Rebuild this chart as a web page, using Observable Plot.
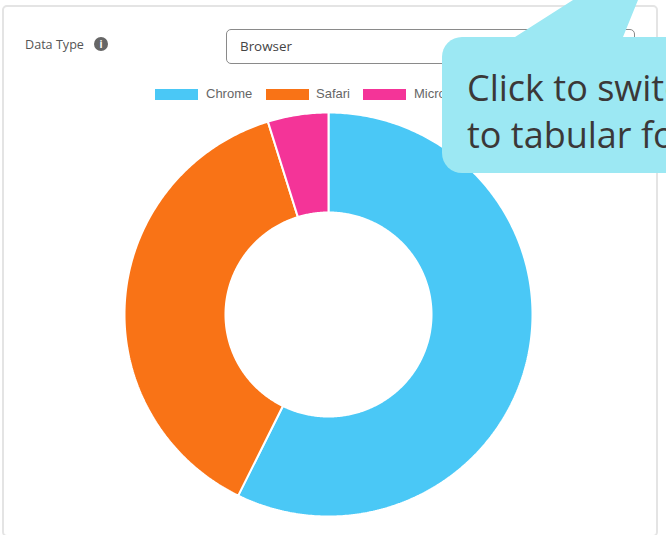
<!DOCTYPE html>
<html>
<head>
<meta charset="utf-8">
<script src="https://cdn.jsdelivr.net/npm/d3@7"></script>
<script src="https://cdn.jsdelivr.net/npm/@observablehq/plot@0.6"></script>
<style>
  html, body { margin: 0; padding: 0; background: #fff; }
  body { position: relative; width: 666px; height: 535px; overflow: hidden; }
  .abs { position: absolute; box-sizing: border-box; }
  #card { left: 2px; top: 5px; width: 656px; height: 532px; border: 2px solid #e4e4e4; border-radius: 5px; }
  #label { left: 25px; top: 36px; font: 12.6px "Open Sans", sans-serif; color: #555; white-space: nowrap; }
  #info { left: 94px; top: 37px; width: 14px; height: 14px; border-radius: 50%; background: #666; color: #fff;
          font: bold 10px/14px "Open Sans", sans-serif; text-align: center; }
  #select { left: 226px; top: 29px; width: 409px; height: 35px; border: 1px solid #8a8a8a; border-radius: 5px; }
  #selectText { left: 240px; top: 37px; font: 13.4px "Open Sans", sans-serif; color: #444; white-space: nowrap; }
  #legend { left: 0; top: 0; }
  .sw { position: absolute; top: 89px; width: 43px; height: 11px; }
  .lt { position: absolute; top: 86px; font: 13px "Liberation Sans", sans-serif; color: #666; white-space: nowrap; }
  #chart { left: 117.5px; top: 104.2px; width: 420px; height: 420px; }
  #chart svg { display: block; background: transparent; }
  #tail { left: 500px; top: 0; width: 166px; height: 40px; background: #9ce8f3;
          clip-path: polygon(15px 37px, 73px 0, 138px 0, 123px 37px, 123px 40px, 15px 40px); }
  #callout { left: 442px; top: 37px; width: 300px; height: 136px; background: #9ce8f3; border-radius: 20px; }
  #calloutText { left: 467px; top: 63.5px; font: 36px/47px "Open Sans", sans-serif; color: #3b3838; white-space: nowrap; }
</style>
</head>
<body>
<div class="abs" id="card"></div>
<div class="abs" id="label">Data Type</div>
<div class="abs" id="info">i</div>
<div class="abs" id="select"></div>
<div class="abs" id="selectText">Browser</div>
<div class="abs" id="legend"></div>
<div class="abs" id="chart"></div>
<div class="abs" id="tail"></div>
<div class="abs" id="callout"></div>
<div class="abs" id="calloutText">Click to switch<br>to tabular form</div>
<script>
const browsers = ["Chrome", "Safari", "Microsoft Edge"];
const shares = [57.3, 37.9, 4.8];
const colors = ["#4ac8f6", "#f97316", "#f43498"];
const legendSwatchX = [155, 266, 363];
const legendTextX = [206, 316, 414];

const innerRatio = 0.505;
const arcs = d3.pie().sort(null)(shares);
const rings = arcs.flatMap((a, i) => {
  const n = Math.max(4, Math.ceil((a.endAngle - a.startAngle) / 0.01));
  const angles = d3.range(n + 1).map(k => a.startAngle + (a.endAngle - a.startAngle) * k / n);
  const ring = (r, list) => list.map(t => ({
    name: browsers[i], x: r * Math.sin(t), y: r * Math.cos(t)
  }));
  return [...ring(1, angles), ...ring(innerRatio, angles.slice().reverse())];
});

const plot = Plot.plot({
  width: 420, height: 420,
  margin: 0,
  x: { domain: [-210 / 204, 210 / 204], axis: null },
  y: { domain: [-210 / 202, 210 / 202], axis: null },
  color: { domain: browsers, range: colors },
  marks: [
    Plot.line(rings, {
      x: "x", y: "y", z: "name",
      fill: "name", stroke: "#fff", strokeWidth: 2,
      curve: "linear-closed", strokeLinejoin: "miter"
    })
  ]
});
document.getElementById("chart").append(plot);

const legend = document.getElementById("legend");
browsers.forEach((b, i) => {
  const s = document.createElement("div");
  s.className = "sw";
  s.style.left = legendSwatchX[i] + "px";
  s.style.background = colors[i];
  legend.append(s);
  const t = document.createElement("div");
  t.className = "lt";
  t.style.left = legendTextX[i] + "px";
  t.textContent = b;
  legend.append(t);
});
</script>
</body>
</html>
